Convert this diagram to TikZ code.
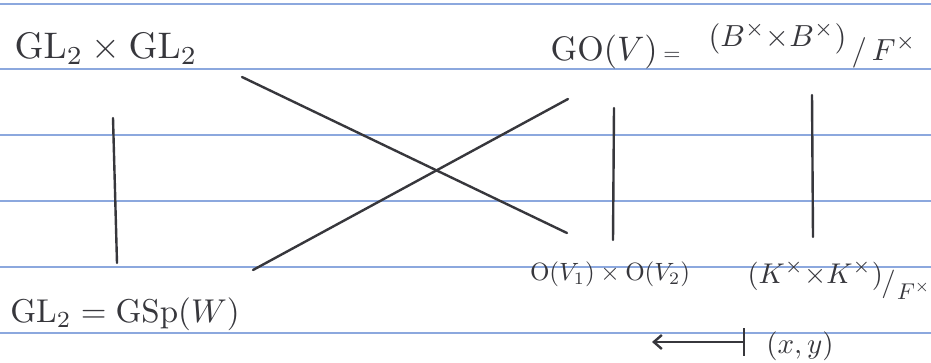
\documentclass[tikz,border=0pt]{standalone}
\usetikzlibrary{arrows.meta}
\definecolor{ink}{RGB}{55,55,60}
\definecolor{ruled}{RGB}{140,168,222}
\tikzset{
  lab/.style={text=ink, inner sep=0pt},
  stroke/.style={draw=ink, line width=2.4pt, line cap=round},
  ruling/.style={draw=ruled, line width=1.1pt},
}
\begin{document}
\begin{tikzpicture}[x=1pt,y=-1pt]
\useasboundingbox (0,0) rectangle (931,362);
\foreach \yy in {4,69,135,201,267,333} \draw[ruling] (0,\yy) -- (931,\yy);

% labels
\node[lab,scale=3.7] (gltop) at (106,49) {$\mathrm{GL}_2\times\mathrm{GL}_2$};
\node[lab,scale=3.4,anchor=base west] (go) at (550,60) {$\mathrm{GO}(V)$\,\scalebox{0.65}{$=$}};
\node[lab,scale=3.05,anchor=base west] (quot) at (708,60)
  {\raisebox{4.3pt}{$(B^\times{\times}B^\times)$}$\,/\,F^\times$};
\node[lab,scale=2.5] (ov) at (610,274) {$\mathrm{O}(V_1)\times\mathrm{O}(V_2)$};
\node[lab,scale=2.85,anchor=base west] (kq) at (747,283)
  {$(K^\times{\times}K^\times)$\kern-0.5pt\raisebox{-3pt}{$/$}\kern0.5pt\raisebox{-5.8pt}{\scalebox{0.8}{$F^\times$}}};
\node[lab,scale=3.3] (glbot) at (125,314) {$\mathrm{GL}_2=\mathrm{GSp}(W)$};
\node[lab,scale=2.9] (xy) at (800,346) {$(x,y)$};

% connector end points
\coordinate (lt) at (113,118); \coordinate (lb) at (117,263);
\coordinate (xa) at (242,77);  \coordinate (xb) at (567,233);
\coordinate (ya) at (253,270); \coordinate (yb) at (568,99);
\coordinate (mt) at (614,108); \coordinate (mb) at (613,240);
\coordinate (rt) at (812,95);  \coordinate (rb) at (813,237);
\coordinate (mapsfrom) at (745,342); \coordinate (mapsto) at (652,342);

\draw[stroke] (lt) -- (lb);
\draw[stroke] (xa) -- (xb);
\draw[stroke] (ya) -- (yb);
\draw[stroke] (mt) -- (mb);
\draw[stroke] (rt) -- (rb);
\draw[stroke, {Bar[width=28pt]}-{Straight Barb[length=8pt,width=14pt]}] (mapsfrom) -- (mapsto);
\end{tikzpicture}
\end{document}
